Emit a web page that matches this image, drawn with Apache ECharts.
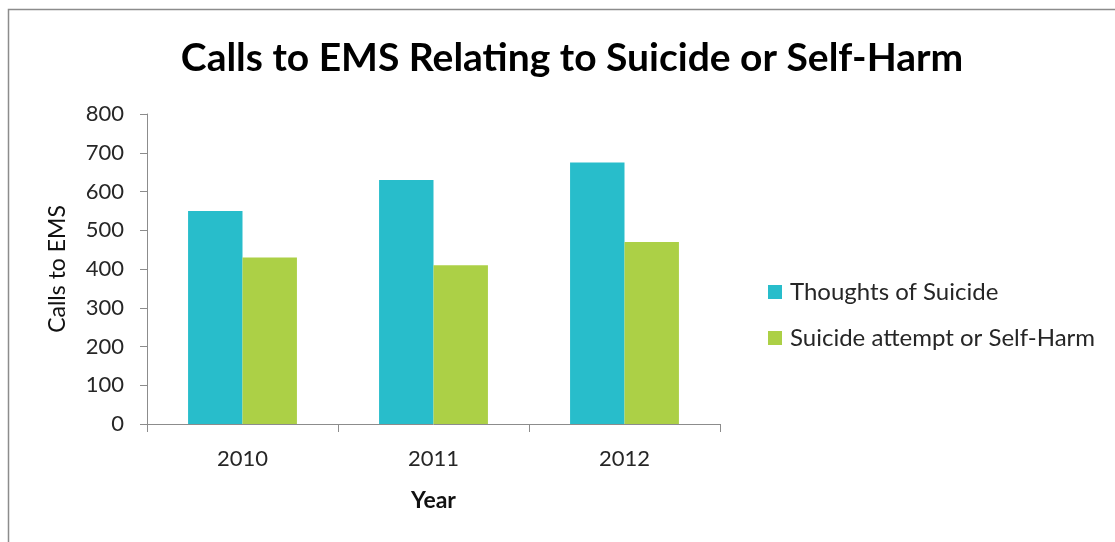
<!DOCTYPE html>
<html>
<head>
<meta charset="utf-8">
<script src="https://cdn.jsdelivr.net/npm/echarts@6/dist/echarts.min.js"></script>
<style>
html,body{margin:0;padding:0;background:#fff;}
#chart{width:1115px;height:542px;}
</style>
</head>
<body>
<div id="chart"></div>
<script>
// Years shown on the category axis
const years = ['2010', '2011', '2012'];
// EMS call counts per year
const thoughtsOfSuicide = [550, 630, 675];
const attemptOrSelfHarm = [430, 410, 470];
// Value axis ticks
const yMin = 0, yMax = 800, yStep = 100;

const font = 'Lato, "Open Sans", sans-serif';
const chart = echarts.init(document.getElementById('chart'));
chart.setOption({
  backgroundColor: '#ffffff',
  animation: false,
  title: {
    text: 'Calls to EMS Relating to Suicide or Self-Harm',
    left: 567, top: 34, textAlign: 'center',
    textStyle: { fontFamily: font, fontSize: 39, fontWeight: 'bold', color: '#000' }
  },
  graphic: [{
    type: 'rect',
    shape: { x: 8.5, y: 9.5, width: 1200, height: 600 },
    style: { fill: 'none', stroke: '#8c8c8c', lineWidth: 1.5 }
  }],
  legend: {
    orient: 'vertical', left: 763, top: 275, itemGap: 22,
    itemWidth: 14, itemHeight: 14, icon: 'rect',
    textStyle: { fontFamily: font, fontSize: 24, color: '#262626', padding: [0, 0, 0, 3] },
    data: ['Thoughts of Suicide', 'Suicide attempt or Self-Harm']
  },
  grid: { left: 147, right: 395, top: 114, bottom: 118 },
  xAxis: {
    type: 'category', data: years,
    name: 'Year', nameLocation: 'middle', nameGap: 65,
    nameTextStyle: { fontFamily: font, fontSize: 23, fontWeight: 'bold', color: '#111' },
    axisLine: { lineStyle: { color: '#8c8c8c', width: 1 } },
    axisTick: { show: true, length: 8, lineStyle: { color: '#8c8c8c' } },
    axisLabel: { fontFamily: font, fontSize: 22, color: '#262626', margin: 24 }
  },
  yAxis: {
    type: 'value', min: yMin, max: yMax, interval: yStep,
    name: 'Calls to EMS', nameLocation: 'middle', nameGap: 78, nameRotate: 90,
    nameTextStyle: { fontFamily: font, fontSize: 23, color: '#111' },
    axisLine: { show: true, lineStyle: { color: '#8c8c8c', width: 1 } },
    axisTick: { show: true, length: 7, inside: false, lineStyle: { color: '#8c8c8c' } },
    axisLabel: { fontFamily: font, fontSize: 22, color: '#262626', margin: 23 },
    splitLine: { show: false }
  },
  series: [
    {
      name: 'Thoughts of Suicide', type: 'bar', data: thoughtsOfSuicide,
      barGap: '0%', barCategoryGap: '43%',
      itemStyle: { color: '#28BDCB' }
    },
    {
      name: 'Suicide attempt or Self-Harm', type: 'bar', data: attemptOrSelfHarm,
      itemStyle: { color: '#ACD046' }
    }
  ]
});
</script>
</body>
</html>
